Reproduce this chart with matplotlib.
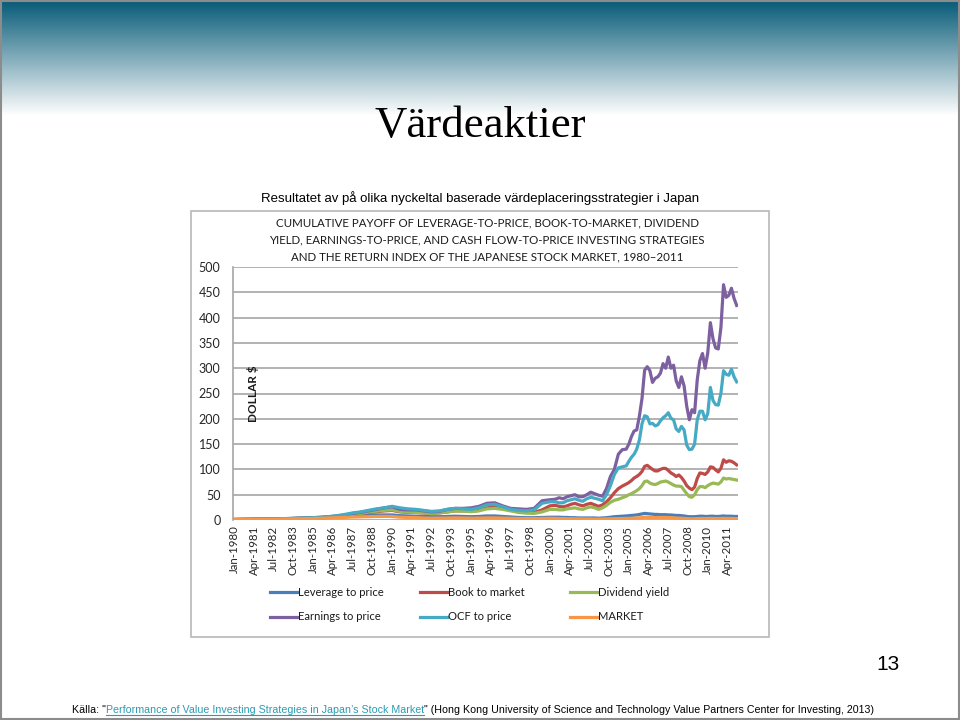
import numpy as np
import matplotlib
matplotlib.use("Agg")
import matplotlib.pyplot as plt
from matplotlib import font_manager
from matplotlib.lines import Line2D
from matplotlib.patches import Rectangle

installed = {f.name for f in font_manager.fontManager.ttflist}
narrow = "Liberation Sans Narrow" if "Liberation Sans Narrow" in installed else "Liberation Sans"
chart_font = "Lato"

# month index from Jan-1980 (0) to Nov-2011 (382)
months = list(range(0, 241, 6)) + list(range(244, 299, 3)) + list(range(300, 383, 2))

leverage = [1.0, 1.1, 1.3, 1.5, 1.7, 1.9, 2.2, 2.6, 3.0, 3.4, 3.9, 4.5, 5.2, 6.2, 7.5, 8.5, 9.0, 9.5, 10, 10,
            10, 8.5, 8.0, 7.5, 7.0, 6.5, 6.5, 7.0, 7.5, 7.0, 6.5, 7.0, 8.0, 8.0, 7.0, 6.0, 5.0, 4.5, 4.5, 5.0, 5.5,
            5.5, 5.5, 5.0, 5.0, 4.5, 4.5, 4.0, 4.0, 4.0, 4.0, 4.0, 3.5, 4.0, 4.5, 5.5, 6.5, 7.0, 7.5, 8.0,
            8.5, 9.0, 9.5, 10, 11, 12, 13, 12.5, 12, 11.5, 11, 11, 10.5, 10.5, 10.5, 10, 10, 9.5, 9.0, 9.0,
            8.5, 8.0, 7.0, 6.5, 6.5, 6.5, 7.0, 7.5, 7.5, 7.0, 7.0, 7.5, 7.5, 7.0, 7.0, 7.5, 8.0, 7.5, 7.5, 7.5, 7.0, 7.0]
book = [1.0, 1.2, 1.4, 1.6, 1.8, 2.0, 2.3, 2.7, 3.1, 3.5, 4.0, 4.7, 5.6, 7.0, 8.8, 11, 12.5, 14.5, 16.5, 18,
        19, 16, 15, 15, 14, 13, 14, 16, 18, 18, 17, 19, 24, 26, 24, 20, 16, 15, 15, 20, 28,
        29, 27, 26, 28, 31, 33, 30, 28, 31, 33, 30, 27, 30, 36, 44, 54, 62, 67, 71,
        74, 78, 83, 86, 90, 96, 106, 108, 104, 100, 97, 97, 100, 102, 102, 98, 93, 90, 86, 89,
        84, 77, 68, 63, 60, 65, 82, 93, 92, 90, 95, 105, 104, 99, 95, 102, 119, 114, 117, 116, 113, 109]
dividend = [1.0, 1.2, 1.4, 1.6, 1.8, 2.0, 2.3, 2.7, 3.1, 3.5, 4.0, 4.7, 5.7, 7.2, 9.0, 11.5, 13, 15.5, 17.5, 19,
            20, 17, 15.5, 15, 14, 13, 14, 16, 18, 17.5, 16.5, 18, 22, 23, 21, 18, 15, 13.5, 13, 16, 21,
            21, 20, 20, 22, 23, 24, 22, 21, 24, 26, 24, 21, 24, 29, 35, 39, 41, 44, 47,
            50, 52, 55, 58, 62, 68, 76, 77, 73, 71, 70, 72, 75, 76, 77, 75, 72, 69, 67, 67,
            66, 59, 52, 46, 45, 50, 60, 66, 66, 64, 68, 71, 73, 72, 71, 75, 83, 81, 82, 81, 80, 79]
earnings = [1.0, 1.2, 1.4, 1.6, 1.8, 2.1, 2.5, 3.0, 3.5, 4.0, 4.6, 5.4, 6.5, 8.0, 10, 13, 15, 18, 21, 24,
            26, 21, 20, 20, 18, 16, 17, 21, 23, 23, 24, 27, 33, 34, 28, 23, 22, 21, 23, 38, 40,
            41, 44, 42, 46, 48, 50, 46, 46, 50, 55, 52, 49, 47, 62, 86, 100, 130, 139, 140,
            150, 165, 176, 178, 205, 240, 296, 303, 295, 272, 280, 283, 290, 309, 300, 322, 300, 306, 275, 262,
            283, 265, 225, 198, 218, 212, 277, 315, 329, 300, 330, 390, 358, 340, 338, 380, 465, 440, 444, 458, 438, 424]
ocf = [1.0, 1.2, 1.4, 1.6, 1.8, 2.1, 2.5, 3.0, 3.5, 4.0, 4.6, 5.5, 6.8, 8.5, 11, 14, 16, 19, 22, 24,
       27, 24, 22, 21, 19, 17, 18, 21, 23, 22, 21, 24, 30, 31, 26, 21, 19, 18, 20, 33, 36,
       36, 34, 34, 38, 40, 42, 39, 37, 42, 45, 43, 41, 38, 50, 68, 90, 103, 105, 107,
       116, 124, 130, 140, 158, 190, 206, 204, 190, 191, 186, 188, 196, 202, 206, 212, 201, 198, 180, 175,
       185, 178, 148, 139, 140, 150, 198, 215, 215, 198, 210, 262, 236, 228, 227, 250, 295, 288, 286, 298, 283, 273]
market = [1.0, 1.05, 1.15, 1.3, 1.4, 1.6, 1.8, 2.1, 2.4, 2.7, 3.0, 3.5, 4.0, 4.6, 5.2, 5.8, 6.2, 6.6, 7.0, 7.2,
          7.0, 5.5, 5.0, 4.8, 4.0, 3.6, 3.8, 4.0, 4.2, 4.0, 3.6, 3.8, 4.2, 4.2, 3.8, 3.4, 3.0, 2.8, 2.8, 3.2, 3.4,
          3.3, 3.0, 2.8, 2.6, 2.5, 2.4, 2.2, 2.0, 2.0, 1.9, 1.8, 1.7, 1.9, 2.2, 2.4, 2.6, 2.7, 2.9, 3.1,
          3.3, 3.5, 3.7, 4.0, 4.3, 4.8, 5.3, 5.2, 5.0, 4.8, 4.8, 4.9, 5.0, 5.0, 5.0, 4.8, 4.5, 4.2, 4.0, 3.8,
          3.5, 3.2, 2.8, 2.5, 2.3, 2.5, 2.8, 3.0, 3.0, 2.9, 3.0, 3.2, 3.1, 3.0, 2.9, 3.1, 3.3, 3.2, 3.1, 3.0, 2.9, 2.8]

series_names = ["Leverage to price", "Book to market", "Dividend yield",
                "Earnings to price", "OCF to price", "MARKET"]
series_values = [leverage, book, dividend, earnings, ocf, market]
series_colors = ["#4a7ebb", "#be4b48", "#98b954", "#7d60a0", "#46aac5", "#f79646"]

tick_labels = ["Jan-1980", "Apr-1981", "Jul-1982", "Oct-1983", "Jan-1985", "Apr-1986", "Jul-1987",
               "Oct-1988", "Jan-1990", "Apr-1991", "Jul-1992", "Oct-1993", "Jan-1995", "Apr-1996",
               "Jul-1997", "Oct-1998", "Jan-2000", "Apr-2001", "Jul-2002", "Oct-2003", "Jan-2005",
               "Apr-2006", "Jul-2007", "Oct-2008", "Jan-2010", "Apr-2011"]
tick_months = list(range(0, 376, 15))

chart_title = ["CUMULATIVE PAYOFF OF LEVERAGE-TO-PRICE, BOOK-TO-MARKET, DIVIDEND",
               "YIELD, EARNINGS-TO-PRICE, AND CASH FLOW-TO-PRICE INVESTING STRATEGIES",
               "AND THE RETURN INDEX OF THE JAPANESE STOCK MARKET, 1980\u20132011"]

W, H = 960, 720
fig = plt.figure(figsize=(9.6, 7.2), dpi=100)
renderer = fig.canvas.get_renderer()


def fx(px):
    return px / W


def fy(py):
    return 1 - py / H


def fit(t, width_px):
    w = t.get_window_extent(renderer).width
    t.set_fontsize(t.get_fontsize() * width_px / w)


# slide background: teal band fading to white
bg = fig.add_axes([0, 0, 1, 1], zorder=-10)
rows = np.arange(H)
t = np.clip((rows - 3) / 112.0, 0, 1)
top = np.array([0.05, 0.37, 0.48])
img = top[None, :] * (1 - t[:, None]) + t[:, None]
bg.imshow(img[:, None, :], aspect="auto", extent=[0, 1, 0, 1])
bg.axis("off")
fig.add_artist(Rectangle((0.001, 0.001), 0.998, 0.998, transform=fig.transFigure,
                         fill=False, edgecolor="#8c8c8c", lw=1.5, zorder=0))

# pasted chart frame
fig.add_artist(Rectangle((fx(191), fy(637)), fx(769) - fx(191), fy(211) - fy(637),
                         transform=fig.transFigure, facecolor="white",
                         edgecolor="#b8b8b8", lw=1.2, zorder=1))

ax = fig.add_axes([fx(233), fy(520), fx(738) - fx(233), fy(267) - fy(520)], zorder=2)
for vals, name, col in zip(series_values, series_names, series_colors):
    ax.plot(months, vals, color=col, lw=2.3, label=name, solid_joinstyle="round")

ax.set_xlim(-1, 383)
ax.set_ylim(0, 500)
ax.set_yticks(range(0, 501, 50))
ax.set_xticks(tick_months)
ax.set_xticklabels(tick_labels, rotation=90, fontsize=8.3, family=chart_font, color="#262626")
for lab in ax.get_yticklabels():
    lab.set_family(chart_font)
ax.tick_params(axis="y", length=0, pad=9, labelsize=9, labelcolor="#262626")
ax.tick_params(axis="x", length=0, pad=4)
ax.grid(axis="y", color="#a6a6a6", lw=1.2)
ax.set_axisbelow(True)
for side in ["top", "right", "bottom"]:
    ax.spines[side].set_visible(False)
ax.spines["left"].set_color("#a6a6a6")
ax.spines["left"].set_linewidth(1.2)
ax.text(0.04, 0.5, "DOLLAR $", rotation=90, transform=ax.transAxes, ha="center", va="center",
        fontsize=8.5, fontweight="bold", family=chart_font, color="#1a1a1a")

# chart title inside frame
title_texts = []
for i, line in enumerate(chart_title):
    tt = fig.text(fx(487), fy(223 + 17 * i), line, ha="center", va="center",
                  fontsize=9.5, family=chart_font, color="#1a1a1a", zorder=3)
    title_texts.append(tt)
fit(title_texts[1], 440)
for tt in title_texts:
    tt.set_fontsize(title_texts[1].get_fontsize())

# legend, 3 columns x 2 rows
leg_texts = []
for i, (name, col) in enumerate(zip(series_names, series_colors)):
    cx = 270 + 150 * (i % 3)
    cy = 592 + 25 * (i // 3)
    fig.add_artist(Line2D([fx(cx), fx(cx + 27)], [fy(cy), fy(cy)], transform=fig.transFigure,
                          color=col, lw=2.3, zorder=3))
    lt = fig.text(fx(cx + 28), fy(cy), name, ha="left", va="center", fontsize=9,
                  family=chart_font, color="#1a1a1a", zorder=3)
    leg_texts.append(lt)
fit(leg_texts[0], 86)
for lt in leg_texts:
    lt.set_fontsize(leg_texts[0].get_fontsize())

# slide texts
title = fig.text(0.5, fy(126), "V\u00e4rdeaktier", ha="center", va="center",
                 fontsize=30, family="Liberation Serif", color="black")
fit(title, 212)
sub = fig.text(fx(480), fy(198), "Resultatet av p\u00e5 olika nyckeltal baserade v\u00e4rdeplaceringsstrategier i Japan",
               ha="center", va="center", fontsize=10, family=narrow, color="black")
fit(sub, 442)
fig.text(fx(900), fy(664), "13", ha="right", va="center", fontsize=15,
         family="Liberation Sans", color="black")

# source line with underlined link
pieces = [("K\u00e4lla: \"", "black", False),
          ("Performance of Value Investing Strategies in Japan\u2019s Stock Market", "#2a9bb2", True),
          ("\" (Hong Kong University of Science and Technology Value Partners Center for Investing, 2013)", "black", False)]
full = fig.text(0, 0, "".join(p[0] for p in pieces), fontsize=8, family=narrow)
fit(full, 794)
src_size = full.get_fontsize()
full.remove()
x = 72
for s, col, link in pieces:
    st = fig.text(fx(x), fy(713), s, ha="left", va="baseline", fontsize=src_size,
                  family=narrow, color=col)
    bb = st.get_window_extent(renderer)
    if link:
        fig.add_artist(Line2D([bb.x0 / W, bb.x1 / W], [fy(715), fy(715)],
                              transform=fig.transFigure, color=col, lw=0.8))
    x = bb.x1

fig.savefig("out.png", dpi=100)
